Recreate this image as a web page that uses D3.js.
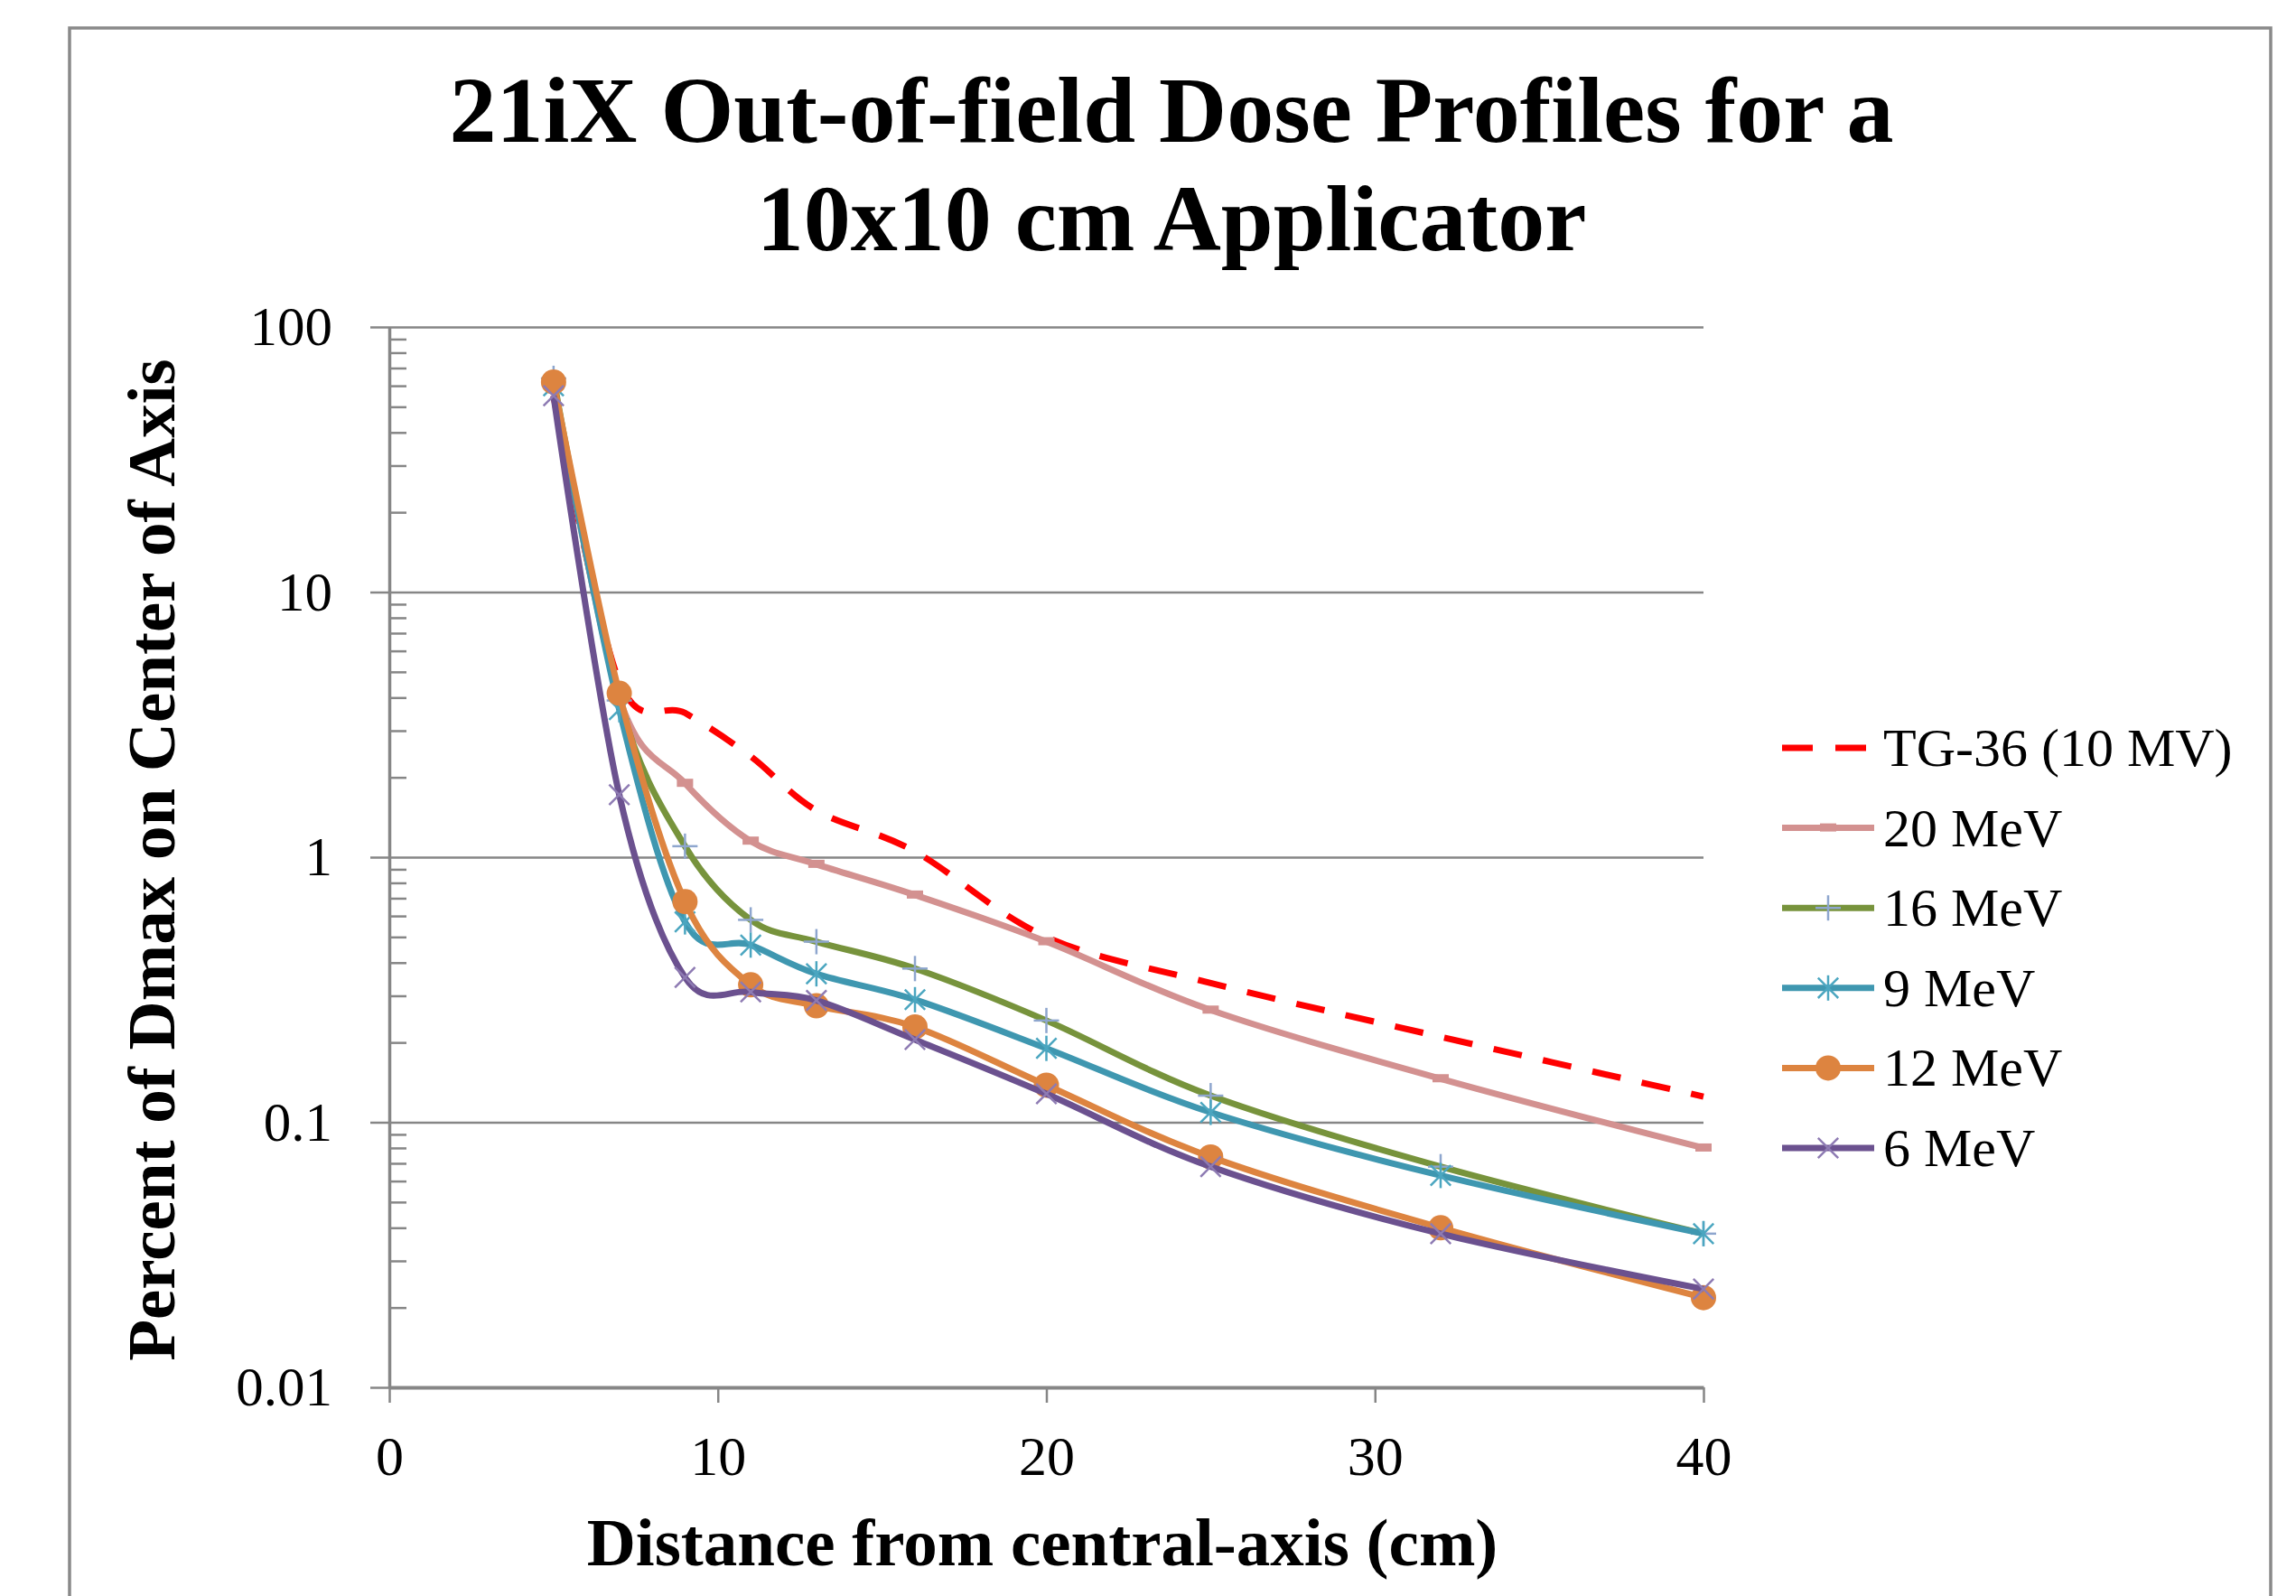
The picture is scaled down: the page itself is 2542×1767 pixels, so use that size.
<!DOCTYPE html>
<html>
<head>
<meta charset="utf-8">
<script src="https://cdn.jsdelivr.net/npm/d3@7"></script>
<style>
body { margin: 0; background: #fff; }
text { font-family: "Liberation Serif", "Times New Roman", serif; fill: #000; }
</style>
</head>
<body>
<svg id="chart" width="2542" height="1767"></svg>
<script>
// distances (cm) and percent of Dmax
const distances = [5, 7, 9, 11, 13, 16, 20, 25, 32, 40];
const tg36 = [55, 4.6, 3.5, 2.4, 1.5, 1.05, 0.5, 0.335, 0.21, 0.125];
const mev20 = [62, 4.0, 1.9, 1.15, 0.94, 0.72, 0.48, 0.265, 0.146, 0.08];
const mev16 = [64, 3.9, 1.1, 0.58, 0.48, 0.38, 0.242, 0.126, 0.068, 0.038];
const mev9 = [60, 3.6, 0.57, 0.466, 0.363, 0.29, 0.19, 0.109, 0.063, 0.038];
const mev12 = [62, 4.15, 0.68, 0.33, 0.275, 0.229, 0.138, 0.074, 0.04, 0.0218];
const mev6 = [55, 1.72, 0.352, 0.31, 0.288, 0.205, 0.128, 0.068, 0.038, 0.0235];
const seriesNames = ["TG-36 (10 MV)", "20 MeV", "16 MeV", "9 MeV", "12 MeV", "6 MeV"];
const xTicks = [0, 10, 20, 30, 40];
const yTicks = [0.01, 0.1, 1, 10, 100];

const series = [
    { name: seriesNames[0], values: tg36, color: "#ff0000", dash: "32,24", marker: "none" },
    { name: seriesNames[1], values: mev20, color: "#d39190", marker: "dash", mcolor: "#d39190" },
    { name: seriesNames[2], values: mev16, color: "#77933c", marker: "plus", mcolor: "#8ea6ce" },
    { name: seriesNames[3], values: mev9, color: "#3f97b0", marker: "star", mcolor: "#4ba6c0" },
    { name: seriesNames[4], values: mev12, color: "#dd8440", marker: "circle", mcolor: "#dd8440" },
    { name: seriesNames[5], values: mev6, color: "#6b518f", marker: "cross", mcolor: "#8e7bb3" },
];

const svg = d3.select("#chart");
const gridColor = "#868686";

svg.append("rect")
    .attr("x", 0).attr("y", 0)
    .attr("width", 2542).attr("height", 1767)
    .attr("fill", "#fff");

// chart border
svg.append("rect")
    .attr("x", 77).attr("y", 31)
    .attr("width", 2437).attr("height", 1800)
    .attr("fill", "none")
    .attr("stroke", "#898989")
    .attr("stroke-width", 3.5);

const x = d3.scaleLinear().domain([0, 40]).range([431, 1886]);
const y = d3.scaleLog().domain([0.01, 100]).range([1536, 362]);

// title
const title = svg.append("text")
    .attr("text-anchor", "middle")
    .attr("font-weight", "bold")
    .attr("font-size", 104);
title.append("tspan").attr("x", 1297).attr("y", 157).text("21iX Out-of-field Dose Profiles for a");
title.append("tspan").attr("x", 1297).attr("y", 277).text("10x10 cm Applicator");

// y axis with gridlines
const yAxis = svg.append("g")
    .attr("transform", "translate(431,0)")
    .call(d3.axisLeft(y)
        .tickValues(yTicks)
        .tickFormat(d3.format("~g"))
        .tickSize(-(1886 - 431))
        .tickSizeOuter(0)
        .tickPadding(63));
yAxis.selectAll(".tick line")
    .attr("x1", -21)
    .attr("stroke", gridColor)
    .attr("stroke-width", 2.5);
yAxis.select(".domain").attr("stroke", gridColor).attr("stroke-width", 3.5);
yAxis.selectAll(".tick text")
    .attr("font-family", "Liberation Serif, serif")
    .attr("font-size", 61);

// minor ticks on the inside
const minors = [];
[0.01, 0.1, 1, 10].forEach((d) => {
    for (let k = 2; k <= 9; k++) minors.push(d * k);
});
const yMinor = svg.append("g")
    .attr("transform", "translate(431,0)")
    .call(d3.axisRight(y).tickValues(minors).tickFormat("").tickSize(19).tickSizeOuter(0));
yMinor.select(".domain").remove();
yMinor.selectAll(".tick line").attr("stroke", gridColor).attr("stroke-width", 2.5);

// x axis
const xAxis = svg.append("g")
    .attr("transform", "translate(0,1536)")
    .call(d3.axisBottom(x)
        .tickValues(xTicks)
        .tickSize(17)
        .tickSizeOuter(0)
        .tickPadding(36));
xAxis.select(".domain").attr("stroke", gridColor).attr("stroke-width", 4);
xAxis.selectAll(".tick line").attr("stroke", gridColor).attr("stroke-width", 2.5);
xAxis.selectAll(".tick text")
    .attr("font-family", "Liberation Serif, serif")
    .attr("font-size", 62);

// axis titles
svg.append("text")
    .attr("x", 1154).attr("y", 1733)
    .attr("text-anchor", "middle")
    .attr("font-weight", "bold")
    .attr("font-size", 75)
    .text("Distance from central-axis (cm)");

svg.append("text")
    .attr("transform", "translate(193,952) rotate(-90)")
    .attr("text-anchor", "middle")
    .attr("font-weight", "bold")
    .attr("font-size", 75)
    .text("Percent of Dmax on Center of Axis");

// markers
function drawMarker(g, type, color, cx, cy) {
    const s = 14;
    if (type === "circle") {
        g.append("circle").attr("cx", cx).attr("cy", cy).attr("r", s).attr("fill", color);
    } else if (type === "dash") {
        g.append("rect").attr("x", cx - 9).attr("y", cy - 5).attr("width", 18).attr("height", 9).attr("fill", color);
    } else if (type === "plus" || type === "star" || type === "cross") {
        const segs = [];
        if (type !== "cross") segs.push([0, -s, 0, s]);
        if (type === "plus") segs.push([-s, 0, s, 0]);
        if (type !== "plus") {
            const d = s * 0.8;
            segs.push([-d, -d, d, d], [-d, d, d, -d]);
        }
        segs.forEach((p) => {
            g.append("line")
                .attr("x1", cx + p[0]).attr("y1", cy + p[1])
                .attr("x2", cx + p[2]).attr("y2", cy + p[3])
                .attr("stroke", color)
                .attr("stroke-width", 2.5);
        });
    }
}

const line = d3.line()
    .x((d) => x(d[0]))
    .y((d) => y(d[1]))
    .curve(d3.curveCatmullRom.alpha(0));

const plot = svg.append("g");
series.forEach((s) => {
    const pts = distances.map((d, i) => [d, s.values[i]]);
    plot.append("path")
        .datum(pts)
        .attr("d", line)
        .attr("fill", "none")
        .attr("stroke", s.color)
        .attr("stroke-width", 7)
        .attr("stroke-linejoin", "round")
        .attr("stroke-dasharray", s.dash || null);
    if (s.marker !== "none") {
        const mg = plot.append("g");
        pts.forEach((p) => drawMarker(mg, s.marker, s.mcolor, x(p[0]), y(p[1])));
    }
});

// legend
const legend = svg.append("g");
series.forEach((s, i) => {
    const ry = 828 + i * 88.6;
    legend.append("line")
        .attr("x1", 1973).attr("x2", 2075)
        .attr("y1", ry).attr("y2", ry)
        .attr("stroke", s.color)
        .attr("stroke-width", 7)
        .attr("stroke-dasharray", s.dash ? "34,25" : null);
    if (s.marker !== "none") drawMarker(legend, s.marker, s.mcolor, 2024, ry);
    legend.append("text")
        .attr("x", 2085).attr("y", ry + 20)
        .attr("font-size", 60)
        .text(s.name);
});
</script>
</body>
</html>
